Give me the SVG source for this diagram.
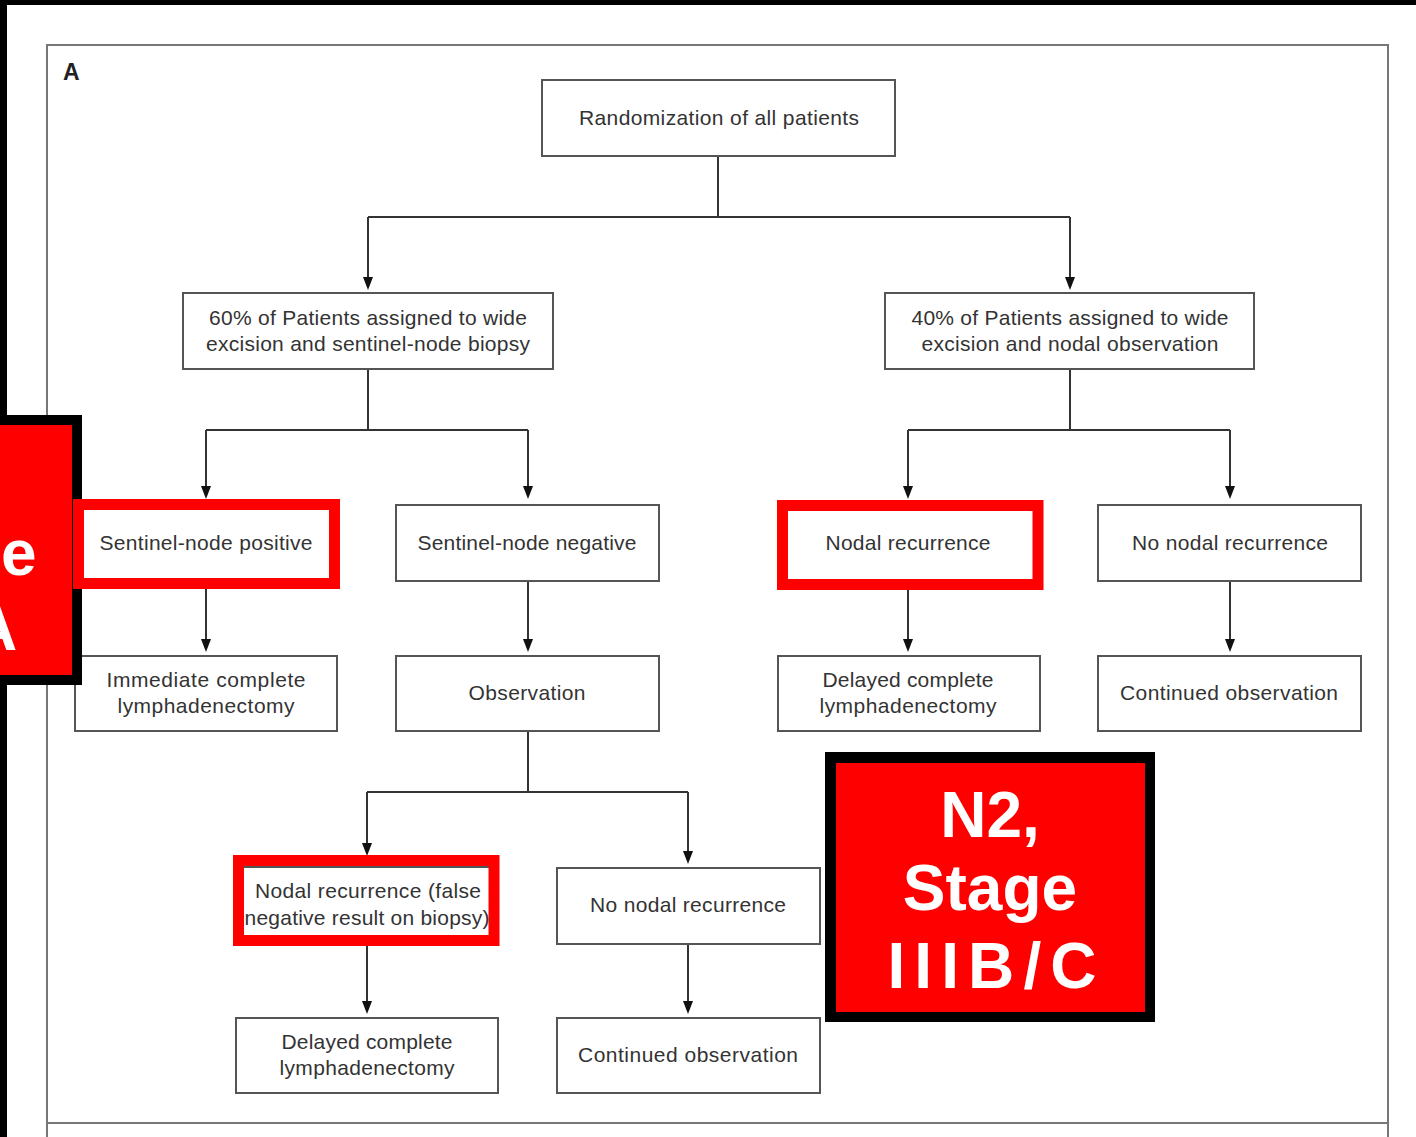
<svg xmlns="http://www.w3.org/2000/svg" width="1416" height="1137" viewBox="0 0 1416 1137">
  <style>
    .box { fill: #ffffff; stroke: #555555; stroke-width: 2; }
    .hl { fill: none; stroke: #ff0000; stroke-width: 11; }
    .t { font-family: "Liberation Sans", Arial, sans-serif; font-size: 21px; fill: #333333; text-anchor: middle; }
    .conn { fill: none; stroke: #333333; stroke-width: 2; }
    .frame { fill: none; stroke: #777777; stroke-width: 2; }
    .big { font-family: "Liberation Sans", Arial, sans-serif; font-size: 64px; font-weight: bold; fill: #ffffff; }
    .ah { fill: #111111; }
  </style>

  <rect x="0" y="0" width="1416" height="1137" fill="#ffffff"/>

  <!-- outer page borders -->
  <rect x="0" y="0" width="1416" height="5" fill="#000000"/>
  <rect x="0" y="0" width="7" height="1137" fill="#000000"/>

  <!-- panel frame -->
  <g id="frame">
    <path class="frame" d="M47,1137 V45 H1388 V1137"/>
    <path class="frame" d="M47,1123 H1388"/>
    <text x="63" y="80" font-family="Liberation Sans, Arial, sans-serif" font-size="23" font-weight="bold" fill="#222222">A</text>
  </g>

  <!-- connectors -->
  <g id="connectors">
    <path class="conn" d="M718,156 V217 M368,217 H1070"/>
    <line class="conn" x1="368" y1="217" x2="368" y2="285"/>
    <line class="conn" x1="1070" y1="217" x2="1070" y2="285"/>

    <path class="conn" d="M368,369 V430 M206,430 H528"/>
    <line class="conn" x1="206" y1="430" x2="206" y2="494"/>
    <line class="conn" x1="528" y1="430" x2="528" y2="494"/>

    <path class="conn" d="M1070,369 V430 M908,430 H1230"/>
    <line class="conn" x1="908" y1="430" x2="908" y2="494"/>
    <line class="conn" x1="1230" y1="430" x2="1230" y2="494"/>

    <line class="conn" x1="206" y1="589" x2="206" y2="647"/>
    <line class="conn" x1="528" y1="581" x2="528" y2="647"/>
    <line class="conn" x1="908" y1="590" x2="908" y2="647"/>
    <line class="conn" x1="1230" y1="581" x2="1230" y2="647"/>

    <path class="conn" d="M528,731 V792 M367,792 H688"/>
    <line class="conn" x1="367" y1="792" x2="367" y2="851"/>
    <line class="conn" x1="688" y1="792" x2="688" y2="859"/>

    <line class="conn" x1="367" y1="946" x2="367" y2="1009"/>
    <line class="conn" x1="688" y1="944" x2="688" y2="1009"/>

    <!-- arrowheads -->
    <path class="ah" d="M363,277 L373,277 L368,290 Z"/>
    <path class="ah" d="M1065,277 L1075,277 L1070,290 Z"/>
    <path class="ah" d="M201,486 L211,486 L206,499 Z"/>
    <path class="ah" d="M523,486 L533,486 L528,499 Z"/>
    <path class="ah" d="M903,486 L913,486 L908,499 Z"/>
    <path class="ah" d="M1225,486 L1235,486 L1230,499 Z"/>
    <path class="ah" d="M201,639 L211,639 L206,652 Z"/>
    <path class="ah" d="M523,639 L533,639 L528,652 Z"/>
    <path class="ah" d="M903,639 L913,639 L908,652 Z"/>
    <path class="ah" d="M1225,639 L1235,639 L1230,652 Z"/>
    <path class="ah" d="M362,843 L372,843 L367,856 Z"/>
    <path class="ah" d="M683,851 L693,851 L688,864 Z"/>
    <path class="ah" d="M362,1001 L372,1001 L367,1014 Z"/>
    <path class="ah" d="M683,1001 L693,1001 L688,1014 Z"/>
  </g>

  <!-- nodes -->
  <g id="n-random">
    <rect class="box" x="542" y="80" width="353" height="76"/>
    <text class="t" x="719" y="125" textLength="280">Randomization of all patients</text>
  </g>
  <g id="n-60">
    <rect class="box" x="183" y="293" width="370" height="76"/>
    <text class="t" x="368" y="325" textLength="318">60% of Patients assigned to wide</text>
    <text class="t" x="368" y="351" textLength="324">excision and sentinel-node biopsy</text>
  </g>
  <g id="n-40">
    <rect class="box" x="885" y="293" width="369" height="76"/>
    <text class="t" x="1070" y="325" textLength="317">40% of Patients assigned to wide</text>
    <text class="t" x="1070" y="351" textLength="297">excision and nodal observation</text>
  </g>
  <g id="n-immed">
    <rect class="box" x="75" y="656" width="262" height="75"/>
    <text class="t" x="206" y="687" textLength="199">Immediate complete</text>
    <text class="t" x="206" y="713" textLength="177">lymphadenectomy</text>
  </g>

  <!-- left callout (partly off the page) -->
  <g id="callout-left">
    <rect x="-20" y="415" width="102" height="270" fill="#000000"/>
    <rect x="-20" y="425" width="92" height="250" fill="#ff0000"/>
    <text class="big" x="1" y="575" font-size="68">e</text>
    <text class="big" x="-29" y="650">A</text>
  </g>

  <g id="n-snpos">
    <rect class="box" x="75" y="505" width="262" height="76"/>
    <rect class="hl" x="78.5" y="504.5" width="256" height="79"/>
    <text class="t" x="206" y="550" textLength="213">Sentinel-node positive</text>
  </g>
  <g id="n-snneg">
    <rect class="box" x="396" y="505" width="263" height="76"/>
    <text class="t" x="527" y="550" textLength="219">Sentinel-node negative</text>
  </g>
  <g id="n-nodrec">
    <rect class="box" x="778" y="505" width="262" height="76"/>
    <rect class="hl" x="782.5" y="505.5" width="255.5" height="79"/>
    <text class="t" x="908" y="550" textLength="165">Nodal recurrence</text>
  </g>
  <g id="n-nonod1">
    <rect class="box" x="1098" y="505" width="263" height="76"/>
    <text class="t" x="1230" y="550" textLength="196">No nodal recurrence</text>
  </g>
  <g id="n-obs">
    <rect class="box" x="396" y="656" width="263" height="75"/>
    <text class="t" x="527" y="700" textLength="117">Observation</text>
  </g>
  <g id="n-delay1">
    <rect class="box" x="778" y="656" width="262" height="75"/>
    <text class="t" x="908" y="687" textLength="171">Delayed complete</text>
    <text class="t" x="908" y="713" textLength="177">lymphadenectomy</text>
  </g>
  <g id="n-cont1">
    <rect class="box" x="1098" y="656" width="263" height="75"/>
    <text class="t" x="1229" y="700" textLength="218">Continued observation</text>
  </g>
  <g id="n-falseneg">
    <rect class="box" x="236" y="867" width="262" height="76"/>
    <rect class="hl" x="238.5" y="860.5" width="255.5" height="80"/>
    <text class="t" x="368" y="898" textLength="226">Nodal recurrence (false</text>
    <text class="t" x="367" y="925" textLength="245">negative result on biopsy)</text>
  </g>
  <g id="n-nonod2">
    <rect class="box" x="557" y="868" width="263" height="76"/>
    <text class="t" x="688" y="912" textLength="196">No nodal recurrence</text>
  </g>
  <g id="n-delay2">
    <rect class="box" x="236" y="1018" width="262" height="75"/>
    <text class="t" x="367" y="1049" textLength="171">Delayed complete</text>
    <text class="t" x="367" y="1075" textLength="175">lymphadenectomy</text>
  </g>
  <g id="n-cont2">
    <rect class="box" x="557" y="1018" width="263" height="75"/>
    <text class="t" x="688" y="1062" textLength="220">Continued observation</text>
  </g>

  <!-- N2 callout -->
  <g id="callout-n2">
    <rect x="825" y="752" width="330" height="270" fill="#000000"/>
    <rect x="836" y="763" width="309" height="249" fill="#ff0000"/>
    <text class="big" x="990" y="837" text-anchor="middle">N2,</text>
    <text class="big" x="990" y="910" text-anchor="middle">Stage</text>
    <text class="big" x="992" y="988" text-anchor="middle" textLength="209">IIIB/C</text>
  </g>
</svg>
